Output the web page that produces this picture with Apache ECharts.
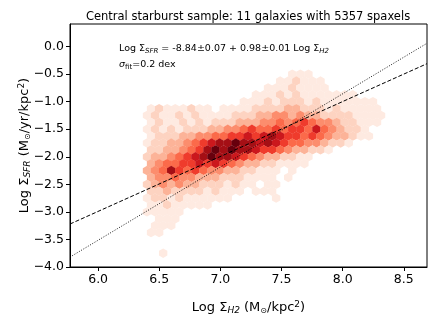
<!DOCTYPE html>
<html>
<head>
<meta charset="utf-8">
<script src="https://cdn.jsdelivr.net/npm/echarts@6/dist/echarts.min.js"></script>
<style>
  html, body { margin: 0; padding: 0; background: #fff; }
  #chart { width: 436px; height: 327px; }
</style>
</head>
<body>
<div id="chart"></div>
<script>
// hexbin grid (bin centres)
const hexX0 = 6.40
const hexDX = 0.066
const hexRowY = [-0.5, -0.625, -0.75, -0.875, -1.0, -1.125, -1.25, -1.375, -1.5, -1.625, -1.75, -1.875,
  -2.0, -2.125, -2.25, -2.375, -2.5, -2.625, -2.75, -2.875, -3.0, -3.125, -3.25, -3.375, -3.75]
// odd rows of the lattice are shifted by half a bin
const hexRowOdd = [0, 1, 0, 1, 0, 1, 0, 1, 0, 1, 0, 1, 0, 1, 0, 1, 0, 1, 0, 1, 0, 1, 0, 1, 0]
const hexRowStart = [18, 16, 15, 13, 12, 0, 0, 0, 0, 0, 0, 0, 0, 0, 0, 0, 0, 0, 0, 0, 0, 1, 1, 0, 2]
// density level of each bin, 0 = empty, 9 = darkest
const hexRowLevels = [
  '111',
  '112111',
  '11121111',
  '1112121111111',
  '11121222121111111',
  '12111211011112222332221211111',
  '121121211112223344343322221111',
  '12112121222333445456544322111',
  '1212122233445655656657543221',
  '1222334455667678766565433211',
  '12233456788988787655443221',
  '22334568989887665433221',
  '233456789887654332211',
  '34556676765433221111',
  '3458656544332211101',
  '344544333222111101',
  '23434332221211011',
  '2232222121110111',
  '12212111111000001',
  '11211111',
  '11111',
  '111',
  '111',
  '11',
  '1'
]
// fit line and reference line, end points at the plot edges
const lineX = [5.77, 8.69]
const fitY = [-3.22, -0.31]
const refY = [-3.82, 0.06]
const xTicks = [6.0, 6.5, 7.0, 7.5, 8.0, 8.5]
const yTicks = [-4.0, -3.5, -3.0, -2.5, -2.0, -1.5, -1.0, -0.5, 0.0]
const reds = ['#feeae1', '#fdd3c1', '#fcb398', '#fc8d6d', '#fb6a4a', '#ef3b2c', '#cb181d', '#a50f15', '#67000d']

const hexData = []
hexRowLevels.forEach((row, r) => {
  for (let k = 0; k < row.length; k++) {
    const lv = +row[k]
    if (lv > 0) {
      const x = hexX0 + (hexRowStart[r] + k) * hexDX + (hexRowOdd[r] ? hexDX / 2 : 0)
      hexData.push([x, hexRowY[r], lv])
    }
  }
})

const FONT = 'DejaVu Sans'
const fmt = v => v.toFixed(1).replace('-', '\u2212')
const nameRich = {
  n: { fontSize: 13, fontFamily: FONT, color: '#000' },
  s: { fontSize: 9, fontStyle: 'italic', fontFamily: FONT, color: '#000', padding: [6, 0, 0, 0] },
  m: { fontSize: 8, fontFamily: FONT, color: '#000', padding: [6, 0, 0, 0] },
  p: { fontSize: 9, fontFamily: FONT, color: '#000', padding: [0, 0, 7, 0] }
}

const myChart = echarts.init(document.getElementById('chart'), null, { renderer: 'canvas' })
const option = {
  animation: false,
  title: {
    text: 'Central starburst sample: 11 galaxies with 5357 spaxels',
    left: 243, top: 6, textAlign: 'center',
    textStyle: { fontFamily: FONT, fontSize: 11.5, fontWeight: 'normal', color: '#000' }
  },
  grid: { left: 70, right: 9, top: 24, bottom: 60, show: true, borderColor: '#000', borderWidth: 1, backgroundColor: 'transparent' },
  visualMap: {
    show: false, type: 'continuous', min: 1, max: 9, dimension: 2, seriesIndex: 0,
    inRange: { color: reds }
  },
  xAxis: {
    type: 'value', min: lineX[0], max: lineX[1],
    splitLine: { show: false },
    axisLine: { onZero: false, lineStyle: { color: '#000', width: 1 } },
    axisTick: { customValues: xTicks, length: 4, lineStyle: { color: '#000' } },
    axisLabel: { customValues: xTicks, formatter: fmt, color: '#000', fontFamily: FONT, fontSize: 12.5, margin: 6 },
    name: '{n|Log Σ}{s|H2}{n| (M}{m|⊙}{n|/kpc}{p|2}{n|)}',
    nameLocation: 'middle', nameGap: 33, nameMoveOverlap: false,
    nameTextStyle: { fontFamily: FONT, color: '#000', rich: nameRich }
  },
  yAxis: {
    type: 'value', min: -4.0, max: 0.41,
    splitLine: { show: false },
    axisLine: { onZero: false, lineStyle: { color: '#000', width: 1 } },
    axisTick: { customValues: yTicks, length: 4, lineStyle: { color: '#000' } },
    axisLabel: { customValues: yTicks, formatter: fmt, color: '#000', fontFamily: FONT, fontSize: 12.5, margin: 6 },
    name: '{n|Log Σ}{s|SFR}{n| (M}{m|⊙}{n|/yr/kpc}{p|2}{n|)}',
    nameLocation: 'middle', nameGap: 37, nameMoveOverlap: false,
    nameTextStyle: { fontFamily: FONT, color: '#000', rich: nameRich }
  },
  graphic: [
    {
      type: 'text', left: 119, top: 44, z: 100,
      style: {
        text: '{n|Log Σ}{s|SFR}{n| = -8.84±0.07 + 0.98±0.01 Log Σ}{s|H2}',
        fill: '#000',
        rich: {
          n: { fontSize: 9.5, fontFamily: FONT, fill: '#000' },
          s: { fontSize: 7, fontStyle: 'italic', fontFamily: FONT, fill: '#000', padding: [4, 0, 0, 0] }
        }
      }
    },
    {
      type: 'text', left: 119, top: 60, z: 100,
      style: {
        text: '{g|σ}{s|fit}{n|=0.2 dex}',
        fill: '#000',
        rich: {
          n: { fontSize: 9.5, fontFamily: FONT, fill: '#000' },
          g: { fontSize: 9.5, fontStyle: 'italic', fontFamily: FONT, fill: '#000' },
          s: { fontSize: 7, fontFamily: FONT, fill: '#000', padding: [4, 0, 0, 0] }
        }
      }
    }
  ],
  series: [
    {
      type: 'scatter',
      data: hexData,
      symbol: 'path://M0,-1 L0.866,-0.5 L0.866,0.5 L0,1 L-0.866,0.5 L-0.866,-0.5 Z',
      symbolSize: [8.4, 9.4],
      itemStyle: { opacity: 1 },
      silent: true,
      z: 2
    },
    {
      type: 'line',
      data: [[lineX[0], fitY[0]], [lineX[1], fitY[1]]],
      symbol: 'none',
      lineStyle: { color: '#000', width: 1, type: [4, 2] },
      silent: true,
      z: 5
    },
    {
      type: 'line',
      data: [[lineX[0], refY[0]], [lineX[1], refY[1]]],
      symbol: 'none',
      lineStyle: { color: '#000', width: 0.9, type: [1, 1.6] },
      silent: true,
      z: 5
    }
  ]
}
myChart.setOption(option)
</script>
</body>
</html>
